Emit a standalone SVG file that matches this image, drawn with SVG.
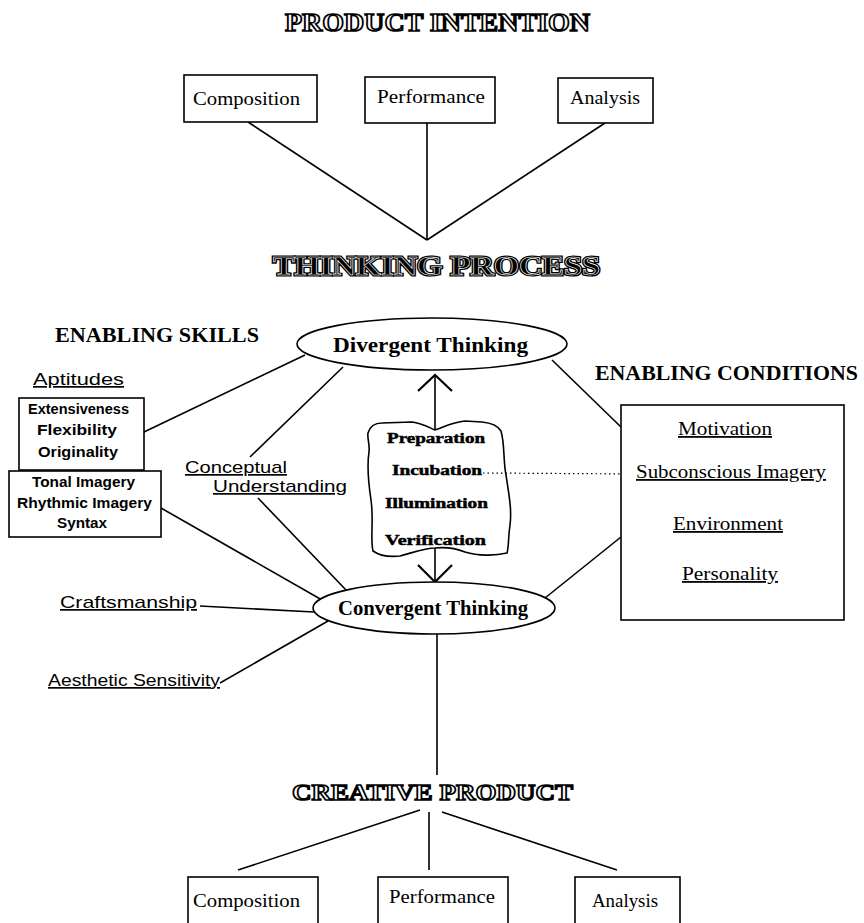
<svg xmlns="http://www.w3.org/2000/svg" width="864" height="923" viewBox="0 0 864 923">
<style>
.box{fill:#fff;stroke:#000;stroke-width:1.6}
.ln{stroke:#000;stroke-width:1.6;fill:none}
.dot{stroke:#000;stroke-width:1.2;stroke-dasharray:1.5 3;fill:none}
.serif{font-family:"Liberation Serif","Times New Roman",serif;fill:#000}
.sans{font-family:"Liberation Sans",Arial,sans-serif;fill:#000}
.title{font-family:"Liberation Serif","Times New Roman",serif;font-weight:bold;fill:#fff;stroke:#000;stroke-width:1.6}
.lbl{font-size:19px}
.bsans{font-weight:bold;font-size:14px}
.u{text-decoration:underline}
.stage{font-family:"Liberation Serif","Times New Roman",serif;font-weight:900;font-size:15px;fill:#000;stroke:#000;stroke-width:0.5}
</style>
<rect width="864" height="923" fill="#fff"/>

<g id="connectors">
  <line class="ln" x1="248" y1="122" x2="427" y2="240"/>
  <line class="ln" x1="427" y1="123" x2="427" y2="240"/>
  <line class="ln" x1="605" y1="123" x2="427" y2="240"/>
  <line class="ln" x1="144" y1="432" x2="305" y2="355"/>
  <line class="ln" x1="343" y1="367" x2="250" y2="457"/>
  <line class="ln" x1="552" y1="360" x2="621" y2="427"/>
  <line class="ln" x1="435" y1="430" x2="435" y2="376"/>
  <polyline class="ln" points="418,391 435,375 452,391" style="stroke-width:2.2"/>
  <line class="ln" x1="435" y1="548" x2="435" y2="581"/>
  <polyline class="ln" points="418,565 435,582 452,565" style="stroke-width:2.2"/>
  <line class="dot" x1="483" y1="473" x2="636" y2="474"/>
  <line class="ln" x1="161" y1="508" x2="322" y2="600"/>
  <line class="ln" x1="258" y1="498" x2="346" y2="590"/>
  <line class="ln" x1="621" y1="537" x2="545" y2="598"/>
  <line class="ln" x1="200" y1="606" x2="314" y2="612"/>
  <line class="ln" x1="220" y1="683" x2="328" y2="621"/>
  <line class="ln" x1="437" y1="634" x2="437" y2="775"/>
  <line class="ln" x1="420" y1="810" x2="238" y2="870"/>
  <line class="ln" x1="429" y1="812" x2="429" y2="870"/>
  <line class="ln" x1="442" y1="812" x2="617" y2="870"/>
</g>

<g id="title-product-intention">
  <text class="title" x="285" y="31" font-size="25" textLength="305" lengthAdjust="spacingAndGlyphs">PRODUCT INTENTION</text>
</g>

<g id="top-composition">
  <rect class="box" x="184" y="75" width="133" height="47"/>
  <text class="serif lbl" x="193" y="105" textLength="107" lengthAdjust="spacingAndGlyphs">Composition</text>
</g>
<g id="top-performance">
  <rect class="box" x="365" y="77" width="130" height="46"/>
  <text class="serif lbl" x="377" y="103" textLength="108" lengthAdjust="spacingAndGlyphs">Performance</text>
</g>
<g id="top-analysis">
  <rect class="box" x="558" y="78" width="95" height="45"/>
  <text class="serif lbl" x="570" y="104" textLength="70" lengthAdjust="spacingAndGlyphs">Analysis</text>
</g>

<g id="title-thinking-process">
  <text x="273" y="275" font-size="28" textLength="327" lengthAdjust="spacingAndGlyphs" style="font-family:'Liberation Serif','Times New Roman',serif;font-weight:bold;fill:#000;stroke:#000;stroke-width:3.2">THINKING PROCESS</text>
  <text x="273" y="275" font-size="28" textLength="327" lengthAdjust="spacingAndGlyphs" style="font-family:'Liberation Serif','Times New Roman',serif;font-weight:bold;fill:none;stroke:#fff;stroke-width:0.6">THINKING PROCESS</text>
</g>

<g id="enabling-skills">
  <text class="serif" x="55" y="342" font-size="21" font-weight="bold" textLength="204" lengthAdjust="spacingAndGlyphs">ENABLING SKILLS</text>
</g>

<g id="enabling-conditions">
  <text class="serif" x="595" y="380" font-size="20" font-weight="bold" textLength="263" lengthAdjust="spacingAndGlyphs">ENABLING CONDITIONS</text>
</g>

<g id="aptitudes">
  <text class="sans u" x="33" y="385" font-size="17" textLength="91" lengthAdjust="spacingAndGlyphs">Aptitudes</text>
</g>

<g id="aptitudes-box">
  <rect class="box" x="19" y="398" width="125" height="72"/>
  <text class="sans bsans" x="28" y="414" textLength="101" lengthAdjust="spacingAndGlyphs">Extensiveness</text>
  <text class="sans bsans" x="37" y="435" textLength="80" lengthAdjust="spacingAndGlyphs">Flexibility</text>
  <text class="sans bsans" x="38" y="457" textLength="80" lengthAdjust="spacingAndGlyphs">Originality</text>
</g>

<g id="imagery-box">
  <rect class="box" x="9" y="471" width="152" height="66"/>
  <text class="sans bsans" x="32" y="487" textLength="103" lengthAdjust="spacingAndGlyphs">Tonal Imagery</text>
  <text class="sans bsans" x="17" y="508" textLength="135" lengthAdjust="spacingAndGlyphs">Rhythmic Imagery</text>
  <text class="sans bsans" x="57" y="528" textLength="50" lengthAdjust="spacingAndGlyphs">Syntax</text>
</g>

<g id="conceptual-understanding">
  <text class="sans u" x="185" y="473" font-size="17" textLength="102" lengthAdjust="spacingAndGlyphs">Conceptual</text>
  <text class="sans u" x="213" y="492" font-size="17" textLength="134" lengthAdjust="spacingAndGlyphs">Understanding</text>
</g>

<g id="divergent-thinking">
  <ellipse class="box" cx="432" cy="344" rx="135" ry="26"/>
  <text class="serif" x="333" y="352" font-size="21" font-weight="bold" textLength="195" lengthAdjust="spacingAndGlyphs">Divergent Thinking</text>
</g>

<g id="stages">
  <path class="ln" d="M368,433 C370,426 374,423 382,423 L412,422 C422,423 430,428 435,430 C442,428 452,422 465,421 L482,422 C492,423 498,426 501,431 C505,445 503,460 506,475 C509,495 512,510 510,525 C508,538 509,546 507,553 C495,556 478,556 465,552 C455,548 445,547 435,548 C425,548 415,552 400,556 C390,557 380,556 373,551 C370,538 374,520 371,500 C368,480 367,465 369,452 C370,444 367,438 368,433 Z"/>
  <text class="stage" x="387" y="443" textLength="98" lengthAdjust="spacingAndGlyphs">Preparation</text>
  <text class="stage" x="392" y="475" textLength="90" lengthAdjust="spacingAndGlyphs">Incubation</text>
  <text class="stage" x="385" y="508" textLength="103" lengthAdjust="spacingAndGlyphs">Illumination</text>
  <text class="stage" x="385" y="545" textLength="101" lengthAdjust="spacingAndGlyphs">Verification</text>
</g>

<g id="conditions-box">
  <rect class="box" x="621" y="405" width="223" height="215"/>
  <text class="serif u" x="678" y="435" font-size="18" textLength="94" lengthAdjust="spacingAndGlyphs">Motivation</text>
  <text class="serif u" x="636" y="478" font-size="18" textLength="190" lengthAdjust="spacingAndGlyphs">Subconscious Imagery</text>
  <text class="serif u" x="673" y="530" font-size="18" textLength="110" lengthAdjust="spacingAndGlyphs">Environment</text>
  <text class="serif u" x="682" y="580" font-size="18" textLength="96" lengthAdjust="spacingAndGlyphs">Personality</text>
</g>

<g id="craftsmanship">
  <text class="sans u" x="60" y="608" font-size="17" textLength="137" lengthAdjust="spacingAndGlyphs">Craftsmanship</text>
</g>
<g id="aesthetic-sensitivity">
  <text class="sans u" x="48" y="686" font-size="17" textLength="172" lengthAdjust="spacingAndGlyphs">Aesthetic Sensitivity</text>
</g>

<g id="convergent-thinking">
  <ellipse class="box" cx="434" cy="608" rx="121" ry="26"/>
  <text class="serif" x="338" y="615" font-size="21" font-weight="bold" textLength="190" lengthAdjust="spacingAndGlyphs">Convergent Thinking</text>
</g>

<g id="title-creative-product">
  <text class="title" x="292" y="800" font-size="24" textLength="281" lengthAdjust="spacingAndGlyphs">CREATIVE PRODUCT</text>
</g>

<g id="bottom-composition">
  <rect class="box" x="188" y="877" width="130" height="60"/>
  <text class="serif lbl" x="193" y="907" textLength="107" lengthAdjust="spacingAndGlyphs">Composition</text>
</g>
<g id="bottom-performance">
  <rect class="box" x="378" y="877" width="130" height="60"/>
  <text class="serif lbl" x="389" y="903" textLength="106" lengthAdjust="spacingAndGlyphs">Performance</text>
</g>
<g id="bottom-analysis">
  <rect class="box" x="575" y="877" width="105" height="60"/>
  <text class="serif lbl" x="592" y="907" textLength="66" lengthAdjust="spacingAndGlyphs">Analysis</text>
</g>
</svg>
